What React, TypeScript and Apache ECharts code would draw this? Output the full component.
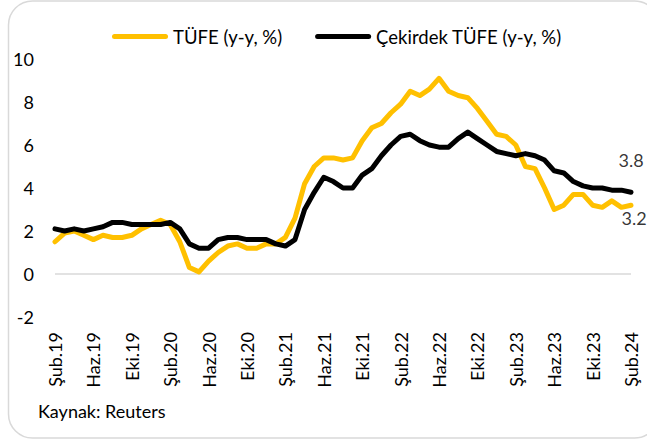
import React, { useEffect, useRef } from "react";
import * as echarts from "echarts";

const categories = [
  "Şub.19","Mar.19","Nis.19","May.19","Haz.19","Tem.19","Ağu.19","Eyl.19","Eki.19","Kas.19","Ara.19",
  "Oca.20","Şub.20","Mar.20","Nis.20","May.20","Haz.20","Tem.20","Ağu.20","Eyl.20","Eki.20","Kas.20","Ara.20",
  "Oca.21","Şub.21","Mar.21","Nis.21","May.21","Haz.21","Tem.21","Ağu.21","Eyl.21","Eki.21","Kas.21","Ara.21",
  "Oca.22","Şub.22","Mar.22","Nis.22","May.22","Haz.22","Tem.22","Ağu.22","Eyl.22","Eki.22","Kas.22","Ara.22",
  "Oca.23","Şub.23","Mar.23","Nis.23","May.23","Haz.23","Tem.23","Ağu.23","Eyl.23","Eki.23","Kas.23","Ara.23",
  "Oca.24","Şub.24",
];

const tufe = [
  1.5, 1.9, 2.0, 1.8, 1.6, 1.8, 1.7, 1.7, 1.8, 2.1, 2.3,
  2.5, 2.3, 1.5, 0.3, 0.1, 0.6, 1.0, 1.3, 1.4, 1.2, 1.2, 1.4,
  1.4, 1.7, 2.6, 4.2, 5.0, 5.4, 5.4, 5.3, 5.4, 6.2, 6.8, 7.0,
  7.5, 7.9, 8.5, 8.3, 8.6, 9.1, 8.5, 8.3, 8.2, 7.7, 7.1, 6.5,
  6.4, 6.0, 5.0, 4.9, 4.0, 3.0, 3.2, 3.7, 3.7, 3.2, 3.1, 3.4,
  3.1, 3.2,
];

const cekirdek = [
  2.1, 2.0, 2.1, 2.0, 2.1, 2.2, 2.4, 2.4, 2.3, 2.3, 2.3,
  2.3, 2.4, 2.1, 1.4, 1.2, 1.2, 1.6, 1.7, 1.7, 1.6, 1.6, 1.6,
  1.4, 1.3, 1.6, 3.0, 3.8, 4.5, 4.3, 4.0, 4.0, 4.6, 4.9, 5.5,
  6.0, 6.4, 6.5, 6.2, 6.0, 5.9, 5.9, 6.3, 6.6, 6.3, 6.0, 5.7,
  5.6, 5.5, 5.6, 5.5, 5.3, 4.8, 4.7, 4.3, 4.1, 4.0, 4.0, 3.9,
  3.9, 3.8,
];

const seriesNames = ["TÜFE (y-y, %)", "Çekirdek TÜFE (y-y, %)"];
const yTicks = { min: -2, max: 10, interval: 2 };
const sourceText = "Kaynak: Reuters";

const FONT = "Lato, 'Open Sans', sans-serif";
const capsule = "path://M2.5,0 L53.5,0 A2.5,2.5 0 0 1 53.5,5 L2.5,5 A2.5,2.5 0 0 1 2.5,0 Z";

function endPoint(values: number[]) {
  const i = values.length - 1;
  return [[categories[i], values[i]]];
}

function endLabelSeries(values: number[], position: string, offset: number[]) {
  return {
    type: "scatter",
    data: endPoint(values),
    symbolSize: 0,
    silent: true,
    z: 5,
    label: {
      show: true,
      position,
      offset,
      formatter: (p: any) => Number(p.value[1]).toFixed(1),
      fontFamily: FONT,
      fontSize: 18,
      color: "#000",
    },
  };
}

export default function App() {
  const ref = useRef<HTMLDivElement>(null);
  useEffect(() => {
    document.body.style.margin = "0";
    const chart = echarts.init(ref.current!, null, { renderer: "svg" });
    chart.setOption({
      animation: false,
      backgroundColor: "#fff",
      textStyle: { fontFamily: FONT },
      graphic: [
        {
          type: "rect",
          shape: { x: 8.5, y: 1, width: 650, height: 437, r: 24 },
          style: { fill: "none", stroke: "#d9d9d9", lineWidth: 1.5 },
          silent: true,
          z: -1,
        },
        {
          type: "text",
          left: 38,
          top: 402,
          style: { text: sourceText, font: `18px ${FONT}`, fill: "#000" },
        },
      ],
      legend: {
        left: 107,
        top: 22,
        itemWidth: 56,
        itemHeight: 5,
        itemGap: 33,
        icon: capsule,
        textStyle: { fontFamily: FONT, fontSize: 18.5, color: "#000" },
        data: seriesNames,
      },
      grid: { left: 55, right: 16, top: 59, bottom: 124, containLabel: false },
      xAxis: {
        type: "category",
        data: categories,
        boundaryGap: false,
        axisLine: { show: false },
        axisTick: { show: false },
        splitLine: { show: false },
        axisLabel: {
          interval: 3,
          rotate: 90,
          margin: 15,
          fontFamily: FONT,
          fontSize: 18,
          color: "#000",
        },
      },
      yAxis: {
        type: "value",
        min: yTicks.min,
        max: yTicks.max,
        interval: yTicks.interval,
        axisLine: { show: false },
        axisTick: { show: false },
        splitLine: { show: false },
        axisLabel: { margin: 21, fontFamily: FONT, fontSize: 18, color: "#000" },
      },
      series: [
        {
          name: seriesNames[0],
          type: "line",
          data: tufe,
          symbol: "none",
          color: "#FFC000",
          lineStyle: { width: 5, color: "#FFC000", join: "round", cap: "round" },
          z: 2,
          markLine: {
            silent: true,
            symbol: "none",
            label: { show: false },
            lineStyle: { color: "#d9d9d9", width: 1.5, type: "solid" },
            data: [{ yAxis: 0 }],
            z: 1,
          },
        },
        {
          name: seriesNames[1],
          type: "line",
          data: cekirdek,
          symbol: "none",
          color: "#000",
          lineStyle: { width: 5, color: "#000", join: "round", cap: "round" },
          z: 3,
        },
        endLabelSeries(tufe, "bottom", [3, -1]),
        endLabelSeries(cekirdek, "top", [0, -18]),
      ],
    });
    return () => chart.dispose();
  }, []);
  return <div ref={ref} style={{ width: 647, height: 441 }} />;
}
